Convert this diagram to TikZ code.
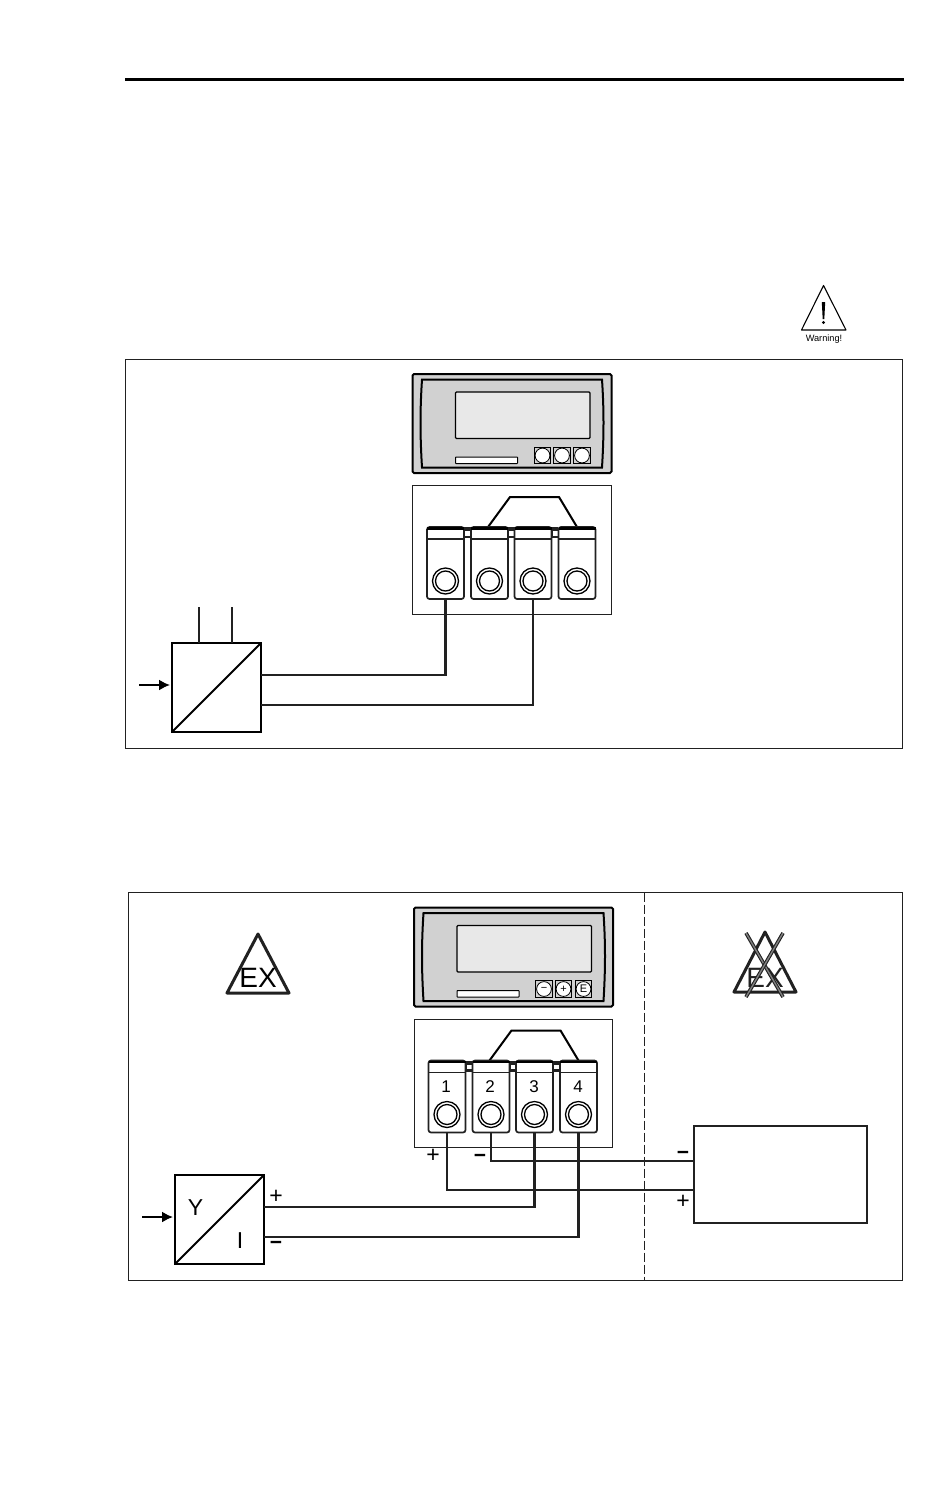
\documentclass[tikz,border=0pt]{standalone}
\usepackage{fontspec}
\setmainfont{Liberation Sans}
\usetikzlibrary{positioning,calc}
\usetikzlibrary{arrows,arrows.meta}
\definecolor{inkdark}{gray}{0.13}
\definecolor{bodygray}{gray}{0.82}
\definecolor{screengray}{gray}{0.91}
\tikzset{
  wire/.style={draw=inkdark,line width=2.2pt},
  termbox/.style={draw=inkdark,line width=1.7pt,rounded corners=2.5pt,fill=white,minimum width=37pt,minimum height=72pt,inner sep=0pt,outer sep=0pt},
  convbox/.style={draw=black,line width=2.2pt,fill=white,minimum width=89pt,minimum height=89pt,inner sep=0pt,outer sep=0pt},
  btn/.style={draw=black,line width=1pt,fill=bodygray,minimum width=16.5pt,minimum height=16.5pt,inner sep=0pt,outer sep=0pt},
  sign/.style={font=\fontsize{23}{23}\selectfont,inner sep=0pt},
  minussign/.style={font=\bfseries\fontsize{21}{21}\selectfont,inner sep=0pt},
  exframe/.style={draw=inkdark,line width=3pt,line join=round}
}
\newcommand{\meterfront}{
  \draw[black,line width=2pt,fill=bodygray,rounded corners=1.5pt] (412.5,374) rectangle (611.5,473);
  \draw[black,line width=2pt,fill=bodygray] (422,379.5) -- (602,379.5) .. controls (604,410) and (604,435) .. (602,467.5) -- (422,467.5) .. controls (420,435) and (420,410) .. (422,379.5) -- cycle;
  \draw[black,line width=1.3pt,fill=screengray,rounded corners=1pt] (455.5,392) rectangle (590,438.5);
  \draw[black,line width=1pt,fill=white,rounded corners=.5pt] (455.5,457) rectangle (517.5,463.5);
}
\begin{document}
\begin{tikzpicture}[x=1pt,y=-1pt]
  \useasboundingbox (0,0) rectangle (950,1496);
  \draw[black,line width=3pt] (125,79) -- (904,79);
  % warning sign
  \draw[black,line width=1.1pt,line join=round] (823.5,285.5) -- (801.5,330) -- (846,330) -- cycle;
  \fill[black] (821.8,302) -- (825.2,302) -- (824.3,319) -- (822.7,319) -- cycle;
  \fill[black] (823.5,322.5) circle (1.7);
  \node[inner sep=0pt,font=\fontsize{9.2}{10}\selectfont] (warn) at (824,339) {Warning!};
  % frames
  \draw[draw=inkdark,line width=1pt] (125.5,359.5) rectangle (902.5,748);
  \draw[draw=inkdark,line width=1pt] (128.5,892.5) rectangle (902.5,1280);
  \draw[draw=inkdark,line width=1pt,dashed,dash pattern=on 9pt off 3pt] (644.5,892.5) -- (644.5,1280);
  % both meters and terminal blocks
  \foreach \brk/\sx/\sy in {a/0/0,b/1.5/533.5} {
    \begin{scope}[shift={(\sx,\sy)}]
      \meterfront
      \node[btn] (\brk btn1) at (542.5,455.5) {};
      \node[btn] (\brk btn2) at (562,455.5) {};
      \node[btn] (\brk btn3) at (582,455.5) {};
      \foreach \trm in {1,2,3} {
        \fill[white,draw=black,line width=.8pt] (\brk btn\trm.center) circle (7.4);
      }
      \draw[draw=inkdark,line width=1pt] (412.5,485.5) rectangle (611,614);
      \draw[black,line width=2pt,line join=miter] (488,527) -- (510,497) -- (559,497) -- (577,527);
      \fill[inkdark] (464,527) rectangle (558,538);
      \foreach \brl in {465,509,552.5} {
        \fill[white] (\brl,531) rectangle (\brl+5,535.5);
      }
      \foreach \trm/\tx in {1/445.5,2/489.5,3/533,4/577} {
        \node[termbox] (\brk\trm) at (\tx,563) {};
        \draw[black,line width=2.6pt] (\tx-18.5,528.5) -- (\tx+18.5,528.5);
        \draw[inkdark,line width=1.1pt] (\tx-18.5,539) -- (\tx+18.5,539);
        \draw[black,line width=1.3pt,fill=white] (\tx,581) circle (13);
        \draw[black,line width=1.3pt] (\tx,581) circle (10);
      }
    \end{scope}
  }
  % button glyphs and terminal numbers of the lower meter
  \node[font=\fontsize{11}{11}\selectfont,inner sep=0pt] at (bbtn1) {−};
  \node[font=\fontsize{11}{11}\selectfont,inner sep=0pt] at (bbtn2) {+};
  \node[font=\fontsize{11}{11}\selectfont,inner sep=0pt] at (bbtn3) {E};
  \foreach \trm/\tx in {1/446,2/490,3/534,4/578} {
    \node[font=\fontsize{17}{17}\selectfont,inner sep=0pt] (num\trm) at (\tx,1086.5) {\trm};
  }
  % upper converter
  \node[convbox] (conva) at (216.5,687.5) {};
  \draw[black,line width=1.8pt] (conva.south west) -- (conva.north east);
  \coordinate (inaa) at (199,607);
  \coordinate (inab) at (232,607);
  \coordinate (srca) at (139,685);
  \coordinate (ctaa) at ($(conva.east)+(0,-12.5)$);
  \coordinate (ctab) at ($(conva.east)+(0,17.5)$);
  \draw[inkdark,line width=1.7pt] (inaa) -- (inaa |- conva.north);
  \draw[inkdark,line width=1.7pt] (inab) -- (inab |- conva.north);
  \draw[black,line width=1.8pt,-{Latex[length=11pt,width=11pt]}] (srca) -- (170,685);
  \draw[wire] (ctaa) -| (a1.south);
  \draw[wire] (ctab) -| (a3.south);
  % lower converter
  \node[convbox] (convb) at (219.5,1219.5) {};
  \draw[black,line width=1.8pt] (convb.south west) -- (convb.north east);
  \node[font=\fontsize{23}{23}\selectfont,inner sep=0pt] (ylab) at (195.5,1208) {Y};
  \node[font=\fontsize{23}{23}\selectfont,inner sep=0pt] (ilab) at (240,1241) {I};
  \coordinate (srcb) at (142,1217);
  \coordinate (ctba) at ($(convb.east)+(0,-12.5)$);
  \coordinate (ctbb) at ($(convb.east)+(0,17.5)$);
  \draw[black,line width=1.8pt,-{Latex[length=11pt,width=11pt]}] (srcb) -- (173,1217);
  \draw[wire] (ctba) -| (b3.south);
  \draw[wire] (ctbb) -| (b4.south);
  % receiver
  \node[draw=inkdark,line width=1.2pt,minimum width=173pt,minimum height=97pt,inner sep=0pt,outer sep=0pt] (recv) at (780.5,1174.5) {};
  \coordinate (rxa) at ($(recv.west)+(0,-13.5)$);
  \coordinate (rxb) at ($(recv.west)+(0,15.5)$);
  \draw[wire] (b2.south) |- (rxa);
  \draw[wire] (b1.south) |- (rxb);
  % polarity signs
  \node[sign] at (276,1197) {+};
  \node[minussign] at (276,1245.5) {−};
  \node[sign] at (433,1156) {+};
  \node[minussign] at (480,1158) {−};
  \node[minussign] at (683,1155) {−};
  \node[sign] at (683,1202) {+};
  % ex signs
  \draw[exframe] (258,934) -- (227,993) -- (289,993) -- cycle;
  \node[font=\fontsize{28}{28}\selectfont,inner sep=0pt] (exa) at (258,978) {EX};
  \draw[exframe] (765,932) -- (734,992) -- (796,992) -- cycle;
  \node[font=\fontsize{28}{28}\selectfont,inner sep=0pt,text=inkdark] (exb) at (765,978) {EX};
  \foreach \brl/\brm in {746/783,783/746} {
    \draw[inkdark,line width=3.6pt] (\brl,933) -- (\brm,997);
    \draw[gray,line width=1.4pt] (\brl,933) -- (\brm,997);
  }
\end{tikzpicture}
\end{document}
